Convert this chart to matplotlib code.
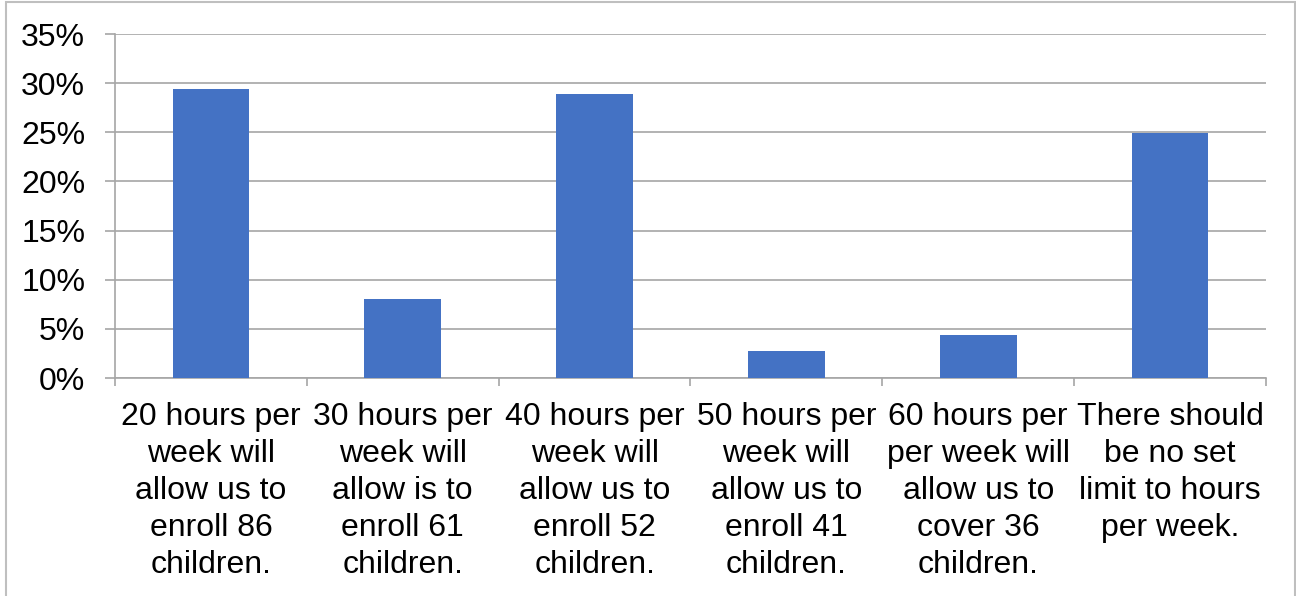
import matplotlib
matplotlib.use("Agg")
import matplotlib.pyplot as plt
from matplotlib.patches import Rectangle
from matplotlib.ticker import FixedLocator, PercentFormatter

plt.rcParams['font.family'] = ['Liberation Sans', 'DejaVu Sans']

categories = [
    "20 hours per\nweek will\nallow us to\nenroll 86\nchildren.",
    "30 hours per\nweek will\nallow is to\nenroll 61\nchildren.",
    "40 hours per\nweek will\nallow us to\nenroll 52\nchildren.",
    "50 hours per\nweek will\nallow us to\nenroll 41\nchildren.",
    "60 hours per\nper week will\nallow us to\ncover 36\nchildren.",
    "There should\nbe no set\nlimit to hours\nper week.",
]
values = [29.4, 8.0, 28.9, 2.7, 4.4, 24.9]
yticks = [0, 5, 10, 15, 20, 25, 30, 35]

fig = plt.figure(figsize=(12.96, 5.96), dpi=100)
ax = fig.add_axes([115/1296, 1-378/596, (1266-115)/1296, (378-34)/596])

x = list(range(len(categories)))
ax.bar(x, values, width=0.40, color='#4472C4', zorder=3)

ax.set_xlim(-0.5, len(categories)-0.5)
ax.set_ylim(0, 35)
ax.set_yticks(yticks)
ax.yaxis.set_major_formatter(PercentFormatter(decimals=0))
ax.set_xticks(x)
ax.set_xticklabels(categories, fontsize=23, linespacing=1.305)
ax.xaxis.set_minor_locator(FixedLocator([i - 0.5 for i in range(len(categories)+1)]))
ax.tick_params(axis='x', which='major', length=0, pad=17)
ax.tick_params(axis='x', which='minor', length=6, width=1.2, color='#A6A6A6')
ax.tick_params(axis='y', length=7.5, width=1.2, color='#A6A6A6', labelsize=23, pad=14)
ax.grid(axis='y', color='#A6A6A6', linewidth=1.2, zorder=0)

for s in ['top', 'right']:
    ax.spines[s].set_visible(False)
for s in ['left', 'bottom']:
    ax.spines[s].set_color('#A6A6A6')
    ax.spines[s].set_linewidth(1.2)

fig.patches.append(Rectangle((6/1296, -0.05), (1295-6)/1296, 1.05 - 2/596,
                             transform=fig.transFigure, fill=False,
                             edgecolor='#BFBFBF', linewidth=1.5))

fig.savefig('out.png', dpi=100)
